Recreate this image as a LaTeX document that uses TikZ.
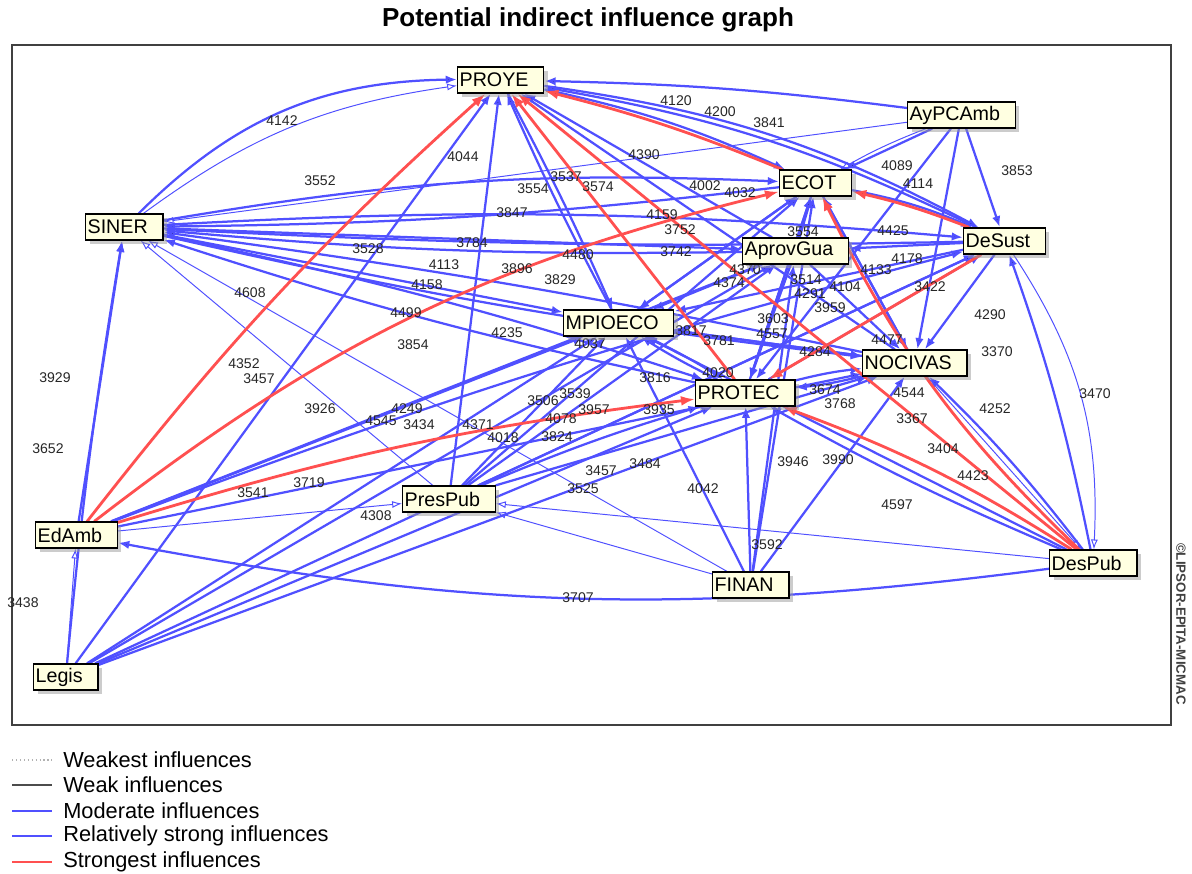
\documentclass[tikz,border=0pt]{standalone}
\usepackage{fontspec}
\setmainfont{Liberation Sans}
\usetikzlibrary{arrows.meta,shadows,backgrounds}
\definecolor{micblue}{RGB}{80,80,255}
\definecolor{micred}{RGB}{255,80,80}
\definecolor{micbox}{RGB}{255,255,225}

\begin{document}
\begin{tikzpicture}[>={Latex[length=8pt,width=6pt]},x=0.025cm,y=-0.025cm]
			\useasboundingbox (0,0) rectangle (1192,874);
			\tikzstyle{infvar}=[draw=black,line width=0.9pt,fill=micbox,rectangle,anchor=west,inner xsep=0.05cm,inner ysep=0pt,minimum height=0.65cm,font=\fontsize{14}{16}\selectfont,drop shadow={shadow xshift=0.1cm,shadow yshift=-0.1cm,fill=black!40},execute at end node={\hspace{0.33cm}}]
			\tikzstyle{infnum}=[draw=none,fill=none,inner sep=0pt,font=\fontsize{10}{11}\selectfont,text=black!85]
			\tikzstyle{legtext}=[draw=none,fill=none,anchor=west,inner sep=0pt,font=\fontsize{15.5}{17}\selectfont]
			\tikzstyle{redinf}=[->,draw=micred,line width=2pt,>={Latex[length=10pt,width=7pt]}]
			\tikzstyle{blueinf}=[->,draw=micblue,line width=1.6pt]
			\tikzstyle{thininf}=[->,draw=micblue,line width=0.7pt,>={Latex[length=7pt,width=5pt,open]}]
			
			%% Title and frame
			\draw (588,20) node [font=\bfseries\fontsize{18.5}{20}\selectfont] (title) {Potential indirect influence graph};
			\draw [black!75,line width=1.1pt] (12,45) rectangle (1171,725);
			\draw (1181,624) node [rotate=-90,font=\bfseries\fontsize{9.5}{10}\selectfont,text=black!75] (copy) {\textcopyright LIPSOR-EPITA-MICMAC};
			
			%% Influence values
			\draw (282,121) node [infnum] (n4142) {4142};
			\draw (463,157) node [infnum] (n4044) {4044};
			\draw (320,181) node [infnum] (n3552) {3552};
			\draw (676,101) node [infnum] (n4120) {4120};
			\draw (720,112) node [infnum] (n4200) {4200};
			\draw (769,123) node [infnum] (n3841) {3841};
			\draw (644,155) node [infnum] (n4390) {4390};
			\draw (897,166) node [infnum] (n4089) {4089};
			\draw (918,184) node [infnum] (n4114) {4114};
			\draw (1017,171) node [infnum] (n3853) {3853};
			\draw (533,189) node [infnum] (n3554a) {3554};
			\draw (566,177) node [infnum] (n3537) {3537};
			\draw (598,187) node [infnum] (n3574) {3574};
			\draw (705,186) node [infnum] (n4002) {4002};
			\draw (740,193) node [infnum] (n4032) {4032};
			\draw (512,213) node [infnum] (n3847) {3847};
			\draw (662,215) node [infnum] (n4159) {4159};
			\draw (680,230) node [infnum] (n3752) {3752};
			\draw (676,252) node [infnum] (n3742) {3742};
			\draw (472,243) node [infnum] (n3784) {3784};
			\draw (368,249) node [infnum] (n3528) {3528};
			\draw (893,231) node [infnum] (n4425) {4425};
			\draw (803,232) node [infnum] (n3554b) {3554};
			\draw (444,265) node [infnum] (n4113) {4113};
			\draw (517,269) node [infnum] (n3896) {3896};
			\draw (578,255) node [infnum] (n4480) {4480};
			\draw (560,280) node [infnum] (n3829) {3829};
			\draw (427,285) node [infnum] (n4158) {4158};
			\draw (876,270) node [infnum] (n4133) {4133};
			\draw (907,259) node [infnum] (n4178) {4178};
			\draw (930,287) node [infnum] (n3422) {3422};
			\draw (745,270) node [infnum] (n4370) {4370};
			\draw (729,283) node [infnum] (n4374) {4374};
			\draw (806,280) node [infnum] (n3514) {3514};
			\draw (845,287) node [infnum] (n4104) {4104};
			\draw (810,294) node [infnum] (n4291) {4291};
			\draw (830,308) node [infnum] (n3959) {3959};
			\draw (250,293) node [infnum] (n4608) {4608};
			\draw (406,313) node [infnum] (n4499) {4499};
			\draw (507,333) node [infnum] (n4235) {4235};
			\draw (413,345) node [infnum] (n3854) {3854};
			\draw (773,319) node [infnum] (n3603) {3603};
			\draw (772,334) node [infnum] (n4557) {4557};
			\draw (691,331) node [infnum] (n3817) {3817};
			\draw (719,341) node [infnum] (n3781) {3781};
			\draw (590,344) node [infnum] (n4037) {4037};
			\draw (815,352) node [infnum] (n4284) {4284};
			\draw (887,340) node [infnum] (n4477) {4477};
			\draw (990,315) node [infnum] (n4290) {4290};
			\draw (997,352) node [infnum] (n3370) {3370};
			\draw (244,364) node [infnum] (n4352) {4352};
			\draw (259,379) node [infnum] (n3457a) {3457};
			\draw (55,378) node [infnum] (n3929) {3929};
			\draw (655,378) node [infnum] (n3816) {3816};
			\draw (718,373) node [infnum] (n4020) {4020};
			\draw (909,393) node [infnum] (n4544) {4544};
			\draw (825,390) node [infnum] (n3674) {3674};
			\draw (840,404) node [infnum] (n3768) {3768};
			\draw (320,409) node [infnum] (n3926) {3926};
			\draw (381,421) node [infnum] (n4545) {4545};
			\draw (407,409) node [infnum] (n4249) {4249};
			\draw (419,425) node [infnum] (n3434) {3434};
			\draw (543,401) node [infnum] (n3506) {3506};
			\draw (575,394) node [infnum] (n3539) {3539};
			\draw (659,410) node [infnum] (n3935) {3935};
			\draw (561,419) node [infnum] (n4078) {4078};
			\draw (594,410) node [infnum] (n3957) {3957};
			\draw (478,425) node [infnum] (n4371) {4371};
			\draw (503,438) node [infnum] (n4018) {4018};
			\draw (557,437) node [infnum] (n3824) {3824};
			\draw (912,419) node [infnum] (n3367) {3367};
			\draw (995,409) node [infnum] (n4252) {4252};
			\draw (1095,394) node [infnum] (n3470) {3470};
			\draw (943,449) node [infnum] (n3404) {3404};
			\draw (48,449) node [infnum] (n3652) {3652};
			\draw (793,462) node [infnum] (n3946) {3946};
			\draw (838,460) node [infnum] (n3990) {3990};
			\draw (645,464) node [infnum] (n3484) {3484};
			\draw (601,471) node [infnum] (n3457b) {3457};
			\draw (973,476) node [infnum] (n4423) {4423};
			\draw (703,489) node [infnum] (n4042) {4042};
			\draw (583,489) node [infnum] (n3525) {3525};
			\draw (309,483) node [infnum] (n3719) {3719};
			\draw (253,493) node [infnum] (n3541) {3541};
			\draw (897,505) node [infnum] (n4597) {4597};
			\draw (376,516) node [infnum] (n4308) {4308};
			\draw (767,545) node [infnum] (n3592) {3592};
			\draw (578,598) node [infnum] (n3707) {3707};
			\draw (23,603) node [infnum] (n3438) {3438};
			
			%% Variables
			\draw (457,80) node [infvar] (proye) {PROYE};
			\draw (907,115) node [infvar] (aypc) {AyPCAmb};
			\draw (779,183) node [infvar] (ecot) {ECOT};
			\draw (85,227) node [infvar] (siner) {SINER};
			\draw (963,241) node [infvar] (desust) {DeSust};
			\draw (742,251) node [infvar] (aprov) {AprovGua};
			\draw (563,323) node [infvar] (mpio) {MPIOECO};
			\draw (862,363) node [infvar] (nociv) {NOCIVAS};
			\draw (695,393) node [infvar] (protec) {PROTEC};
			\draw (402,499) node [infvar] (prespub) {PresPub};
			\draw (35,535) node [infvar] (edamb) {EdAmb};
			\draw (712,585) node [infvar] (finan) {FINAN};
			\draw (1049,563) node [infvar] (despub) {DesPub};
			\draw (33,677) node [infvar] (legis) {Legis};
			
			\begin{pgfonlayer}{background}
			%% Relatively strong influences
			\path [blueinf] (siner) edge [bend left=22] (proye);
			\path [blueinf] (siner) edge [bend left=6] (ecot);
			\path [blueinf] (ecot) edge [bend left=3] (siner);
			\path [blueinf] (siner) edge [bend left=4] (desust);
			\path [blueinf] (desust) edge [bend left=2] (siner);
			\path [blueinf] (siner) edge (aprov);
			\path [blueinf] (aprov) edge [bend left=3] (siner);
			\path [blueinf] (siner) edge [bend right=3] (nociv);
			\path [blueinf] (nociv) edge [bend right=2] (siner);
			\path [blueinf] (siner) edge (mpio);
			\path [blueinf] (siner) edge [bend left=3] (protec);
			\path [blueinf] (protec) edge [bend left=3] (siner);
			\path [blueinf] (edamb) edge (siner);
			\path [blueinf] (legis) edge [bend left=2] (siner);
			\path [blueinf] (legis) edge (proye);
			\path [blueinf] (legis) edge (mpio);
			\path [blueinf] (legis) edge (aprov);
			\path [blueinf] (legis) edge (protec);
			\path [blueinf] (legis) edge (nociv);
			\path [blueinf] (legis) edge (desust);
			\path [blueinf] (edamb) edge (mpio);
			\path [blueinf] (edamb) edge (aprov);
			\path [blueinf] (edamb) edge (nociv);
			\path [blueinf] (edamb) edge [bend left=3] (desust);
			\path [blueinf] (despub) edge [bend left=9] (edamb);
			\path [blueinf] (prespub) edge (proye);
			\path [blueinf] (prespub) edge (mpio);
			\path [blueinf] (prespub) edge [bend left=3] (protec);
			\path [blueinf] (prespub) edge (nociv);
			\path [blueinf] (prespub) edge (ecot);
			\path [blueinf] (prespub) edge (desust);
			\path [blueinf] (prespub) edge (aprov);
			\path [blueinf] (finan) edge (protec);
			\path [blueinf] (finan) edge (mpio);
			\path [blueinf] (finan) edge (nociv);
			\path [blueinf] (finan) edge (ecot);
			\path [blueinf] (finan) edge (aprov);
			\path [blueinf] (despub) edge [bend right=4] (nociv);
			\path [blueinf] (despub) edge [bend right=4] (desust);
			\path [blueinf] (despub) edge (mpio);
			\path [blueinf] (despub) edge [bend left=3] (protec);
			\path [blueinf] (desust) edge (nociv);
			\path [blueinf] (desust) edge (mpio);
			\path [blueinf] (desust) edge (aprov);
			\path [blueinf] (desust) edge [bend right=8] (proye);
			\path [blueinf] (ecot) edge [bend left=6] (desust);
			\path [blueinf] (ecot) edge (nociv);
			\path [blueinf] (ecot) edge (protec);
			\path [blueinf] (ecot) edge (mpio);
			\path [blueinf] (proye) edge [bend left=6] (ecot);
			\path [blueinf] (proye) edge [bend left=2] (mpio);
			\path [blueinf] (mpio) edge [bend left=2] (proye);
			\path [blueinf] (proye) edge [bend left=10] (desust);
			\path [blueinf] (aypc) edge [bend right=3] (proye);
			\path [blueinf] (aypc) edge (ecot);
			\path [blueinf] (aypc) edge (desust);
			\path [blueinf] (aypc) edge (protec);
			\path [blueinf] (aypc) edge (nociv);
			\path [blueinf] (aprov) edge (proye);
			\path [blueinf] (nociv) edge (proye);
			\path [blueinf] (aprov) edge (ecot);
			\path [blueinf] (aprov) edge (protec);
			\path [blueinf] (aprov) edge (nociv);
			\path [blueinf] (aprov) edge (mpio);
			\path [blueinf] (mpio) edge [bend left=3] (protec);
			\path [blueinf] (protec) edge [bend left=3] (mpio);
			\path [blueinf] (mpio) edge (nociv);
			\path [blueinf] (mpio) edge (ecot);
			\path [blueinf] (protec) edge [bend left=4] (nociv);
			\path [blueinf] (nociv) edge [bend left=4] (protec);
			\path [blueinf] (protec) edge (ecot);
			\path [blueinf] (protec) edge (desust);
			\path [blueinf] (nociv) edge (ecot);
			\path [blueinf] (nociv) edge (mpio);
			
			%% Moderate influences
			\path [thininf] (aypc) edge (siner);
			\path [thininf] (finan) edge (siner);
			\path [thininf] (prespub) edge (siner);
			\path [thininf] (siner) edge [bend left=14] (proye);
			\path [thininf] (legis) edge (edamb);
			\path [thininf] (edamb) edge (prespub);
			\path [thininf] (despub) edge (prespub);
			\path [thininf] (finan) edge (prespub);
			\path [thininf] (desust) edge [bend left=18] (despub);
			\path [thininf] (nociv) edge (despub);
			\path [thininf] (aypc) edge [bend right=4] (ecot);
			
			%% Strongest influences
			\path [redinf] (edamb) edge [bend left=5] (proye);
			\path [redinf] (edamb) edge [bend left=12] (ecot);
			\path [redinf] (edamb) edge [bend left=5] (protec);
			\path [redinf] (ecot) edge [bend right=4] (proye);
			\path [redinf] (protec) edge (proye);
			\path [redinf] (despub) edge (proye);
			\path [redinf] (despub) edge [bend left=10] (ecot);
			\path [redinf] (despub) edge [bend right=6] (protec);
			\path [redinf] (desust) edge (protec);
			\path [redinf] (desust) edge [bend right=4] (ecot);
			\end{pgfonlayer}
			
			%% Legend
			\draw [black!30,dotted,line width=0.8pt] (12,760) -- (52,760);
			\draw [black!70,line width=0.8pt] (12,785) -- (52,785);
			\draw [micblue,line width=0.8pt] (12,811) -- (52,811);
			\draw [micblue,line width=1.8pt] (12,836) -- (52,836);
			\draw [micred,line width=1.8pt] (12,862) -- (52,862);
			\draw (63,760) node [legtext] (lg1) {Weakest influences};
			\draw (63,785) node [legtext] (lg2) {Weak influences};
			\draw (63,811) node [legtext] (lg3) {Moderate influences};
			\draw (63,836) node [legtext] (lg4) {Relatively strong influences};
			\draw (63,862) node [legtext] (lg5) {Strongest influences};
			
		\end{tikzpicture}
\end{document}
